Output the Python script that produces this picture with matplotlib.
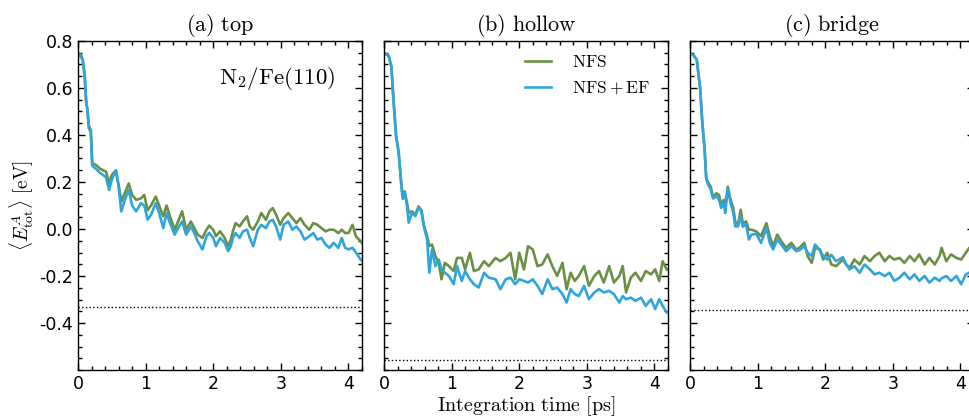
import numpy as np
import matplotlib
matplotlib.use("Agg")
import matplotlib.pyplot as plt
from matplotlib.ticker import MultipleLocator

plt.rcParams['mathtext.fontset'] = 'cm'
plt.rcParams['axes.unicode_minus'] = False
plt.rcParams['font.family'] = 'DejaVu Sans'

# ---- data ----
# (a) top
t_top = [0, 0.045, 0.07, 0.10, 0.12, 0.14, 0.16, 0.19, 0.21,
         0.27, 0.32, 0.37, 0.415, 0.46, 0.5, 0.56, 0.6, 0.64, 0.70,
         0.75, 0.80, 0.86, 0.93, 0.98, 1.03, 1.08, 1.15, 1.20, 1.26,
         1.31, 1.36, 1.43, 1.48, 1.54, 1.60, 1.67, 1.72, 1.77, 1.84,
         1.90, 1.94, 2.00, 2.04, 2.10, 2.17, 2.22, 2.26, 2.29, 2.33,
         2.39, 2.44, 2.50, 2.54, 2.59, 2.66, 2.71, 2.78, 2.83, 2.88,
         2.93, 2.99, 3.04, 3.11, 3.17, 3.23, 3.29, 3.35, 3.42, 3.48,
         3.54, 3.60, 3.66, 3.72, 3.78, 3.85, 3.90, 3.95, 4.00, 4.06,
         4.11, 4.18, 4.2]
nfs_top = [0.75, 0.74, 0.72, 0.64, 0.54, 0.51, 0.44, 0.42, 0.28,
           0.272, 0.258, 0.25, 0.244, 0.194, 0.23, 0.25, 0.19, 0.117, 0.159,
           0.194, 0.145, 0.124, 0.13, 0.145, 0.08, 0.10, 0.138, 0.10, 0.054,
           0.10, 0.054, -0.003, 0.032, 0.075, -0.003, 0.032, 0.004, -0.024, -0.038,
           -0.003, 0.014, -0.003, -0.031, -0.01, -0.038, -0.073, -0.045, -0.01, 0.025,
           0.011, 0.032, 0.054, 0.011, -0.003, 0.032, 0.068, 0.039, 0.075, 0.089,
           0.061, 0.018, 0.046, 0.068, 0.046, 0.025, 0.046, 0.018, -0.003, 0.025,
           0.018, 0.004, -0.01, -0.003, -0.003, -0.017, -0.003, -0.017, -0.017, 0.018,
           -0.031, -0.052, -0.06]
ef_top = [0.75, 0.73, 0.72, 0.66, 0.55, 0.50, 0.43, 0.41, 0.27,
          0.255, 0.24, 0.23, 0.22, 0.166, 0.21, 0.25, 0.18, 0.075, 0.13,
          0.166, 0.10, 0.075, 0.11, 0.10, 0.04, 0.06, 0.11, 0.068, 0.004,
          0.068, 0.025, -0.024, 0.004, 0.032, -0.024, 0.011, -0.017, -0.052, -0.087,
          -0.031, -0.017, -0.038, -0.073, -0.038, -0.059, -0.094, -0.073, -0.038, -0.017,
          -0.038, -0.01, -0.003, -0.038, -0.073, -0.003, 0.018, 0.004, 0.032, 0.039,
          0.011, -0.045, 0.018, 0.032, -0.003, 0.011, -0.01, -0.045, -0.031, -0.017,
          -0.045, -0.038, -0.066, -0.08, -0.059, -0.08, -0.038, -0.08, -0.087, -0.08,
          -0.10, -0.13, -0.135]

# (b) hollow
t_hol = [0, 0.07, 0.11, 0.143, 0.178, 0.217, 0.257, 0.277, 0.306, 0.34,
         0.365, 0.415, 0.464, 0.51, 0.553, 0.588, 0.637, 0.67, 0.71, 0.76,
         0.81, 0.85, 0.90, 0.96, 1.03, 1.08, 1.15, 1.20, 1.27, 1.33,
         1.40, 1.48, 1.55, 1.65, 1.72, 1.80, 1.87, 1.94, 2.0, 2.07,
         2.13, 2.20, 2.27, 2.34, 2.42, 2.49, 2.56, 2.64, 2.70, 2.76,
         2.82, 2.88, 2.96, 3.03, 3.11, 3.18, 3.25, 3.33, 3.40, 3.48,
         3.53, 3.58, 3.65, 3.72, 3.80, 3.87, 3.95, 4.01, 4.07, 4.12, 4.18]
nfs_hol = [0.75, 0.736, 0.69, 0.54, 0.40, 0.325, 0.19, 0.14, 0.16, 0.11,
           0.07, 0.075, 0.06, 0.096, 0.08, 0.02, -0.03, -0.073, -0.066, -0.115,
           -0.144, -0.214, -0.144, -0.158, -0.179, -0.123, -0.123, -0.172, -0.101, -0.179,
           -0.172, -0.137, -0.158, -0.123, -0.137, -0.123, -0.101, -0.214, -0.101, -0.172,
           -0.073, -0.087, -0.158, -0.151, -0.108, -0.158, -0.2, -0.144, -0.256, -0.186,
           -0.221, -0.2, -0.158, -0.242, -0.2, -0.179, -0.228, -0.158, -0.228, -0.2,
           -0.158, -0.27, -0.207, -0.186, -0.221, -0.179, -0.193, -0.172, -0.221, -0.137, -0.172]
ef_hol = [0.75, 0.736, 0.69, 0.537, 0.396, 0.325, 0.183, 0.128, 0.155, 0.098,
          0.027, 0.07, 0.055, 0.09, 0.077, 0.013, -0.044, -0.186, -0.087, -0.158,
          -0.13, -0.172, -0.186, -0.2, -0.235, -0.158, -0.221, -0.179, -0.214, -0.235,
          -0.249, -0.186, -0.207, -0.214, -0.256, -0.214, -0.207, -0.235, -0.214, -0.221,
          -0.228, -0.214, -0.242, -0.277, -0.214, -0.256, -0.249, -0.277, -0.313, -0.256,
          -0.277, -0.285, -0.242, -0.299, -0.27, -0.256, -0.27, -0.263, -0.277, -0.313,
          -0.285, -0.299, -0.292, -0.306, -0.292, -0.327, -0.299, -0.341, -0.299, -0.327, -0.355]

# (c) bridge
t_bri = [0, 0.05, 0.10, 0.15, 0.18, 0.217, 0.24, 0.266, 0.305, 0.34,
         0.39, 0.43, 0.46, 0.50, 0.52, 0.56, 0.60, 0.64, 0.67, 0.71,
         0.75, 0.78, 0.83, 0.87, 0.91, 0.98, 1.05, 1.13, 1.18, 1.23,
         1.29, 1.35, 1.42, 1.50, 1.57, 1.62, 1.69, 1.74, 1.80, 1.85,
         1.92, 1.97, 2.03, 2.09, 2.16, 2.26, 2.31, 2.36, 2.43, 2.51,
         2.58, 2.66, 2.73, 2.80, 2.88, 2.95, 3.02, 3.10, 3.17, 3.25,
         3.32, 3.39, 3.47, 3.54, 3.62, 3.69, 3.72, 3.79, 3.86, 3.94,
         4.01, 4.08, 4.13, 4.2]
nfs_bri = [0.75, 0.74, 0.72, 0.60, 0.46, 0.335, 0.215, 0.20, 0.18, 0.137,
           0.152, 0.145, 0.103, 0.124, 0.10, 0.18, 0.124, 0.089, 0.03, 0.02,
           0.082, 0.025, 0.032, -0.003, -0.003, -0.01, -0.03, 0.025, -0.031, -0.073,
           -0.024, -0.052, -0.08, -0.059, -0.087, -0.08, -0.059, -0.115, -0.144, -0.08,
           -0.087, -0.13, -0.101, -0.151, -0.158, -0.13, -0.151, -0.165, -0.13, -0.151,
           -0.115, -0.137, -0.115, -0.101, -0.137, -0.115, -0.13, -0.123, -0.144, -0.115,
           -0.137, -0.108, -0.151, -0.123, -0.151, -0.115, -0.08, -0.137, -0.108, -0.123,
           -0.13, -0.101, -0.08, -0.07]
ef_bri = [0.75, 0.74, 0.72, 0.60, 0.46, 0.335, 0.215, 0.19, 0.17, 0.13,
          0.14, 0.125, 0.09, 0.11, 0.068, 0.17, 0.11, 0.07, 0.011, 0.011,
          0.054, 0.01, 0.02, -0.045, -0.024, -0.02, -0.059, 0.004, -0.059, -0.087,
          -0.045, -0.066, -0.094, -0.073, -0.094, -0.09, -0.073, -0.101, -0.115, -0.066,
          -0.09, -0.115, -0.13, -0.11, -0.137, -0.12, -0.15, -0.172, -0.158, -0.186,
          -0.151, -0.172, -0.193, -0.186, -0.2, -0.186, -0.221, -0.207, -0.186, -0.214,
          -0.193, -0.221, -0.2, -0.228, -0.207, -0.221, -0.21, -0.2, -0.221, -0.2,
          -0.235, -0.193, -0.186, -0.19]

titles = ['(a) top', '(b) hollow', '(c) bridge']
ref_levels = [-0.33, -0.557, -0.345]   # dotted reference lines

green = '#6a8f45'
blue = '#2fa5de'

fig = plt.figure(figsize=(9.7, 4.18), dpi=100)
lefts = [78 / 970, 384 / 970, 690 / 970]
w = 284 / 970
bottom = 48 / 418
h = 329 / 418

panels = [(t_top, nfs_top, ef_top), (t_hol, nfs_hol, ef_hol), (t_bri, nfs_bri, ef_bri)]
axes = []
for i, (t, nfs, ef) in enumerate(panels):
    ax = fig.add_axes([lefts[i], bottom, w, h])
    axes.append(ax)
    ax.plot(t, nfs, color=green, lw=1.9, label=r'$\mathrm{NFS}$')
    ax.plot(t, ef, color=blue, lw=1.9, label=r'$\mathrm{NFS+EF}$')
    ax.axhline(ref_levels[i], color='black', ls=':', lw=1.0)
    ax.set_xlim(0, 4.2)
    ax.set_ylim(-0.6, 0.8)
    ax.set_xticks([0, 1, 2, 3, 4])
    ax.xaxis.set_minor_locator(MultipleLocator(0.2))
    ax.set_yticks([-0.4, -0.2, 0.0, 0.2, 0.4, 0.6, 0.8])
    ax.yaxis.set_minor_locator(MultipleLocator(0.05))
    ax.tick_params(which='both', direction='in', top=True, right=True, width=1.0)
    ax.tick_params(which='major', length=5, labelsize=12.5)
    ax.tick_params(which='minor', length=3)
    for s in ax.spines.values():
        s.set_linewidth(1.0)
    ax.set_title(r'$\mathrm{' + titles[i].replace(' ', r'\ ') + '}$', fontsize=16, pad=7)
    if i > 0:
        ax.set_yticklabels([])

axes[0].yaxis.set_major_formatter(plt.FuncFormatter(lambda v, p: '%.1f' % v))
axes[0].set_ylabel(r'$\langle E^{A}_{\mathrm{tot}}\rangle\ \mathrm{[eV]}$', fontsize=14, labelpad=2)
axes[0].text(0.905, 0.885, r'$\mathrm{N_2/Fe(110)}$', transform=axes[0].transAxes,
             ha='right', va='center', fontsize=16.5)
axes[1].set_xlabel(r'$\mathrm{Integration\ time\ [ps]}$', fontsize=14.5, labelpad=1)
axes[1].legend(loc='upper right', bbox_to_anchor=(0.99, 1.01), frameon=False,
               fontsize=12.5, handlelength=1.5, handletextpad=1.2, labelspacing=0.45)

fig.savefig('out.png', dpi=100)
